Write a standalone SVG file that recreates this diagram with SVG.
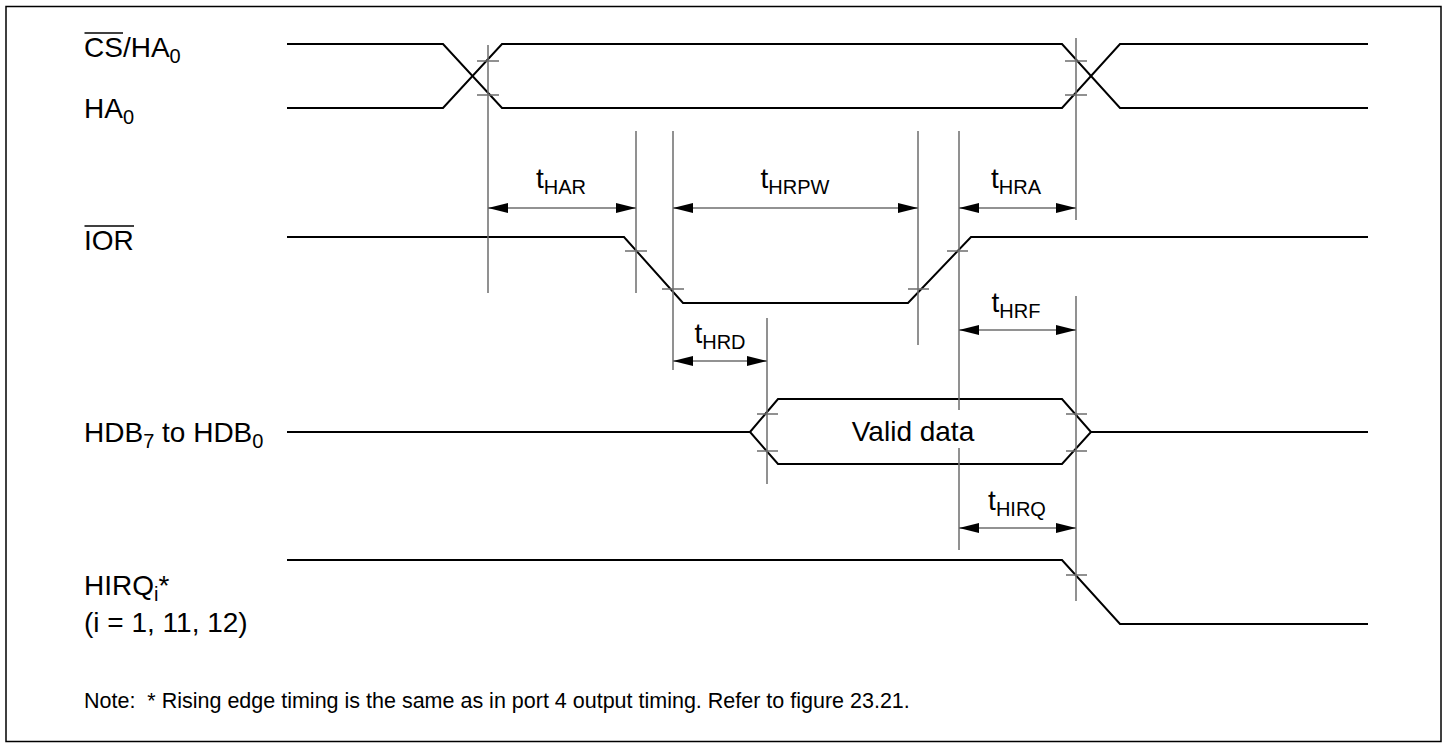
<svg xmlns="http://www.w3.org/2000/svg" width="1448" height="748" viewBox="0 0 1448 748">
<style>
.frame{fill:#fff;stroke:#000;stroke-width:1.5}
.sig{fill:none;stroke:#000;stroke-width:2;stroke-linejoin:miter}
.guide{fill:none;stroke:#6e6e6e;stroke-width:1.5}
.dim{fill:none;stroke:#6e6e6e;stroke-width:1.5}
.lbl{font-family:"Liberation Sans",Arial,sans-serif;font-size:28px;fill:#000}
.tm{font-family:"Liberation Sans",Arial,sans-serif;font-size:28px;fill:#000;text-anchor:middle}
.note{font-family:"Liberation Sans",Arial,sans-serif;font-size:21.5px;fill:#000}
.sub{font-size:20px}
.ov{stroke:#000;stroke-width:1.5}
</style>
<defs>
<marker id="ah" markerUnits="userSpaceOnUse" markerWidth="20" markerHeight="10" refX="20" refY="5" orient="auto-start-reverse" viewBox="0 0 20 10">
<path d="M0,0 L20,5 L0,10 Z" fill="#000"/>
</marker>
</defs>
<rect class="frame" x="6" y="6.5" width="1435" height="735"/>

<g id="signal-cs-ha0">
<path class="sig" d="M287,44 H443 L502,108 H1062 L1120,44 H1368"/>
<path class="sig" d="M287,108 H443 L502,44 H1062 L1120,108 H1368"/>
</g>
<g id="signal-ior">
<path class="sig" d="M287,237 H624 L683,303 H908 L971,237 H1368"/>
</g>
<g id="signal-hdb">
<path class="sig" d="M287,432 H750 M750,432 L778,399 H1062 L1091,432 L1062,464 H778 Z M1091,432 H1368"/>
<text class="tm" x="913" y="441">Valid data</text>
</g>
<g id="signal-hirq">
<path class="sig" d="M287,560 H1062 L1120,624 H1368"/>
</g>

<g id="guides">
<path class="guide" d="M488,45 V293 M636,131 V293 M673,131 V370 M918,131 V345 M959,131 V410 M959,448 V550 M767,318 V484 M1076,38 V220 M1076,296 V601"/>
<path class="guide" d="M477,61 H499 M477,95 H499 M1065,61 H1087 M1065,95 H1087 M625,251 H647 M662,289 H684 M908,289 H929 M947,251 H968 M757,414 H778 M757,451 H778 M1066,414 H1087 M1066,451 H1087 M1066,575 H1087"/>
</g>

<g id="connectors">
<line class="dim" x1="488" y1="208" x2="636" y2="208" marker-start="url(#ah)" marker-end="url(#ah)"/>
<line class="dim" x1="673" y1="208" x2="918" y2="208" marker-start="url(#ah)" marker-end="url(#ah)"/>
<line class="dim" x1="959" y1="208" x2="1076" y2="208" marker-start="url(#ah)" marker-end="url(#ah)"/>
<line class="dim" x1="673" y1="361" x2="767" y2="361" marker-start="url(#ah)" marker-end="url(#ah)"/>
<line class="dim" x1="959" y1="330" x2="1076" y2="330" marker-start="url(#ah)" marker-end="url(#ah)"/>
<line class="dim" x1="959" y1="528" x2="1076" y2="528" marker-start="url(#ah)" marker-end="url(#ah)"/>
</g>

<g id="timing-labels">
<text class="tm" x="561" y="188">t<tspan class="sub" dy="6">HAR</tspan></text>
<text class="tm" x="795" y="188">t<tspan class="sub" dy="6">HRPW</tspan></text>
<text class="tm" x="1016" y="188">t<tspan class="sub" dy="6">HRA</tspan></text>
<text class="tm" x="720" y="343">t<tspan class="sub" dy="6">HRD</tspan></text>
<text class="tm" x="1016" y="312">t<tspan class="sub" dy="6">HRF</tspan></text>
<text class="tm" x="1017" y="510">t<tspan class="sub" dy="6">HIRQ</tspan></text>
</g>

<g id="signal-labels">
<text class="lbl" x="84" y="57">CS/HA<tspan class="sub" dy="6">0</tspan></text>
<line class="ov" x1="84.5" y1="33" x2="123" y2="33"/>
<text class="lbl" x="84" y="118">HA<tspan class="sub" dy="6">0</tspan></text>
<text class="lbl" x="84" y="250">IOR</text>
<line class="ov" x1="84.5" y1="226" x2="134" y2="226"/>
<text class="lbl" x="84" y="442">HDB<tspan class="sub" dy="6">7</tspan><tspan dy="-6"> to HDB</tspan><tspan class="sub" dy="6">0</tspan></text>
<text class="lbl" x="84" y="595">HIRQ<tspan class="sub" dy="6">i</tspan><tspan dy="-6">*</tspan></text>
<text class="lbl" x="84" y="632">(i = 1, 11, 12)</text>
</g>

<g id="note">
<text class="note" x="84" y="708" xml:space="preserve">Note:  * Rising edge timing is the same as in port 4 output timing. Refer to figure 23.21.</text>
</g>
</svg>
